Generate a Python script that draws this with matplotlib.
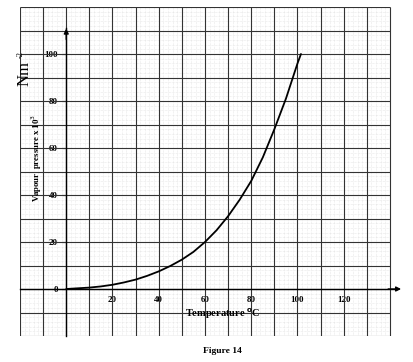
import matplotlib
matplotlib.use("Agg")
import matplotlib.pyplot as plt
import numpy as np

temperature = [0, 5, 10, 15, 20, 25, 30, 35, 40, 45, 50, 55, 60, 65, 70, 75, 80, 85, 90, 95, 100, 101.5]
pressure = [0, 0.3, 0.6, 1.1, 1.8, 2.8, 4.0, 5.6, 7.5, 9.8, 12.5, 15.8, 20, 25, 31, 38, 46, 56, 68, 81, 96, 100]
x_ticks = [20, 40, 60, 80, 100, 120]
y_ticks = [0, 20, 40, 60, 80, 100]

plt.rcParams['font.family'] = ['Liberation Serif', 'DejaVu Serif']

fig = plt.figure(figsize=(4.14, 3.62), dpi=100)
ax = fig.add_axes([20/414, 26/362, (165*2.3125)/414, 329/362])
ax.set_xlim(-20, 145)
ax.set_ylim(-20, 120)

# graph paper
xmin, xmax, ymin, ymax = -20, 140, -20, 120
ax.vlines(np.arange(xmin, xmax + 0.1, 2), ymin, ymax, colors='#d8d8d8', linewidth=0.4, linestyles=(0, (1, 1.5)), zorder=1)
ax.hlines(np.arange(ymin, ymax + 0.1, 2), xmin, xmax, colors='#d8d8d8', linewidth=0.4, linestyles=(0, (1, 1.5)), zorder=1)
ax.vlines(np.arange(xmin, xmax + 0.1, 10), ymin, ymax, colors='#333333', linewidth=0.8, zorder=2)
ax.hlines(np.arange(ymin, ymax + 0.1, 10), xmin, xmax, colors='#333333', linewidth=0.8, zorder=2)

for s in ['top', 'right']:
    ax.spines[s].set_visible(False)
ax.spines['left'].set_position(('data', 0))
ax.spines['bottom'].set_position(('data', 0))
ax.spines['left'].set_bounds(-20, 111)
ax.spines['bottom'].set_bounds(-20, 143)
ax.spines['left'].set_linewidth(1.0)
ax.spines['bottom'].set_linewidth(1.0)
ax.spines['left'].set_zorder(3)
ax.spines['bottom'].set_zorder(3)

# arrows
ax.annotate('', xy=(0, 112), xytext=(0, 105),
            arrowprops=dict(arrowstyle='-|>', color='black', lw=1, mutation_scale=7))
ax.annotate('', xy=(146, 0), xytext=(138, 0),
            arrowprops=dict(arrowstyle='-|>', color='black', lw=1, mutation_scale=7), annotation_clip=False)

ax.set_xticks(x_ticks)
ax.set_xticklabels([str(v) for v in x_ticks])
ax.set_yticks(y_ticks)
ax.set_yticklabels([str(v) for v in y_ticks])
ax.tick_params(axis='both', length=3, width=0.8, labelsize=6.5, pad=3, direction='out')
ax.tick_params(axis='x', length=0, pad=5)
for lab in ax.get_xticklabels() + ax.get_yticklabels():
    lab.set_fontweight('bold')

ax.plot(temperature, pressure, color='black', linewidth=1.3, zorder=4, solid_capstyle='round')

fig.text(37/414, 1 - 158/362, 'Vapour  pressure x 10$^3$', rotation=90, fontsize=6.3, fontweight='bold',
         ha='center', va='center')
fig.text(25/414, 1 - 74/362, 'Nm', rotation=90, fontsize=12, ha='center', va='center')
fig.text(21/414, 1 - 55/362, '-2', rotation=90, fontsize=6, ha='center', va='center')
ax.text(67.5, -10.6, 'Temperature $^{\\mathbf{o}}$C', fontsize=7.5, fontweight='bold', ha='center', va='center')
fig.text(222/414, 1 - 351/362, 'Figure 14', fontsize=6.8, fontweight='bold', ha='center', va='center')

fig.savefig('out.png', dpi=100)
